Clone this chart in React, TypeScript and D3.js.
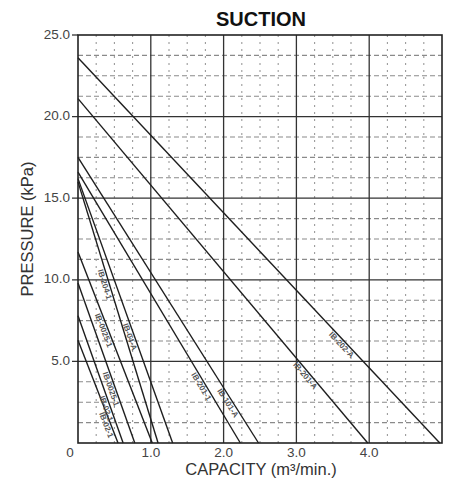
import React from "react";
import * as d3 from "d3";

const chartTitle = "SUCTION";
const xTitle = "CAPACITY (m³/min.)";
const yTitle = "PRESSURE (kPa)";

const xTickValues = [0, 1, 2, 3, 4];
const xTickLabels = ["0", "1.0", "2.0", "3.0", "4.0"];
const yTickValues = [5, 10, 15, 20, 25];
const yTickLabels = ["5.0", "10.0", "15.0", "20.0", "25.0"];

// Each curve: pressure at zero capacity, capacity at zero pressure
const startPressure = [23.6, 21.1, 17.5, 16.6, 16.2, 16.0, 11.7, 9.8, 7.8, 6.3];
const endCapacity = [4.97, 3.98, 2.48, 2.23, 1.3, 1.1, 1.02, 0.78, 0.62, 0.55];
const modelLabels = [
  "IB-202-A",
  "IB-201-A",
  "IB-101-A",
  "IB-201-1",
  "IB-04-A",
  "IB-204-1",
  "IB-0025-1",
  "IB-0025-1",
  "IB-02-1",
  "IB-02-1",
];
const labelPressure = [6.2, 4.3, 2.6, 3.6, 6.6, 9.8, 7.0, 3.4, 2.2, 1.2];

const W = 461;
const H = 481;
const FONT = "'Liberation Sans', Arial, sans-serif";

export default function App() {
  const x = d3.scaleLinear().domain([0, 5]).range([78, 442]);
  const y = d3.scaleLinear().domain([0, 25]).range([443, 35]);

  const minorX = d3.range(0.25, 5, 0.25).filter((v) => Math.abs(v - Math.round(v)) > 1e-6);
  const minorY = d3.range(1.25, 25, 1.25).filter((v) => Math.abs(v / 5 - Math.round(v / 5)) > 1e-6);
  const majorX = [1, 2, 3, 4];
  const majorY = [5, 10, 15, 20];

  const line = d3
    .line<[number, number]>()
    .x((d) => x(d[0]))
    .y((d) => y(d[1]));

  return (
    <svg
      width={W}
      height={H}
      style={{ position: "absolute", left: 0, top: 0, background: "#fff" }}
      fontFamily={FONT}
    >
      <rect x={0} y={0} width={W} height={H} fill="#fff" />
      {/* minor grid */}
      {minorY.map((v) => (
        <line
          key={"my" + v}
          x1={x(0)}
          x2={x(5)}
          y1={y(v)}
          y2={y(v)}
          stroke="#8a8a8a"
          strokeWidth={1.1}
          strokeDasharray="5,3"
        />
      ))}
      {minorX.map((v) => (
        <line
          key={"mx" + v}
          x1={x(v)}
          x2={x(v)}
          y1={y(0)}
          y2={y(25)}
          stroke="#9a9a9a"
          strokeWidth={1.1}
          strokeDasharray="2,5"
        />
      ))}
      {/* major grid */}
      {majorY.map((v) => (
        <line key={"My" + v} x1={x(0) - 6} x2={x(5)} y1={y(v)} y2={y(v)} stroke="#333" strokeWidth={1.3} />
      ))}
      {majorX.map((v) => (
        <line key={"Mx" + v} x1={x(v)} x2={x(v)} y1={y(0)} y2={y(25)} stroke="#333" strokeWidth={1.3} />
      ))}
      <line x1={x(0) - 6} x2={x(0)} y1={y(25)} y2={y(25)} stroke="#333" strokeWidth={1.3} />
      {/* frame */}
      <rect x={x(0)} y={y(25)} width={x(5) - x(0)} height={y(0) - y(25)} fill="none" stroke="#222" strokeWidth={1.6} />

      {/* curves */}
      {startPressure.map((p0, i) => (
        <path
          key={"c" + i}
          d={line([
            [0, p0],
            [endCapacity[i], 0],
          ]) as string}
          fill="none"
          stroke="#1e1e1e"
          strokeWidth={1.4}
        />
      ))}
      {/* curve labels */}
      {startPressure.map((p0, i) => {
        const q0 = endCapacity[i];
        const lp = labelPressure[i];
        const v = q0 * (1 - lp / p0);
        const px = x(v);
        const py = y(lp);
        const dx = x(q0) - x(0);
        const dy = y(0) - y(p0);
        const ang = (Math.atan2(dy, dx) * 180) / Math.PI;
        const len = Math.hypot(dx, dy);
        const nx = -dy / len;
        const ny = dx / len;
        const off = 5;
        const cx = px + nx * off;
        const cy = py + ny * off;
        return (
          <text
            key={"l" + i}
            x={cx}
            y={cy}
            transform={`rotate(${ang} ${cx} ${cy})`}
            textAnchor="middle"
            dominantBaseline="middle"
            fontSize={8}
            fontWeight="bold"
            fill="#555"
          >
            {modelLabels[i]}
          </text>
        );
      })}

      {/* y tick labels */}
      {yTickValues.map((v, i) => (
        <text key={"yt" + v} x={70} y={y(v)} textAnchor="end" dominantBaseline="middle" fontSize={13.5} fill="#444">
          {yTickLabels[i]}
        </text>
      ))}
      {/* x tick labels */}
      {xTickValues.map((v, i) => (
        <text
          key={"xt" + v}
          x={v === 0 ? 70 : x(v)}
          y={457}
          textAnchor="middle"
          fontSize={13.5}
          fill="#444"
        >
          {xTickLabels[i]}
        </text>
      ))}
      {/* axis titles */}
      <text x={261} y={475} textAnchor="middle" fontSize={16.5} fill="#333">
        {xTitle}
      </text>
      <text
        x={0}
        y={0}
        transform={`translate(33 ${229}) rotate(-90)`}
        textAnchor="middle"
        fontSize={16.5}
        fill="#333"
      >
        {yTitle}
      </text>
      <text x={261} y={26} textAnchor="middle" fontSize={20} fontWeight="bold" fill="#111">
        {chartTitle}
      </text>
    </svg>
  );
}
